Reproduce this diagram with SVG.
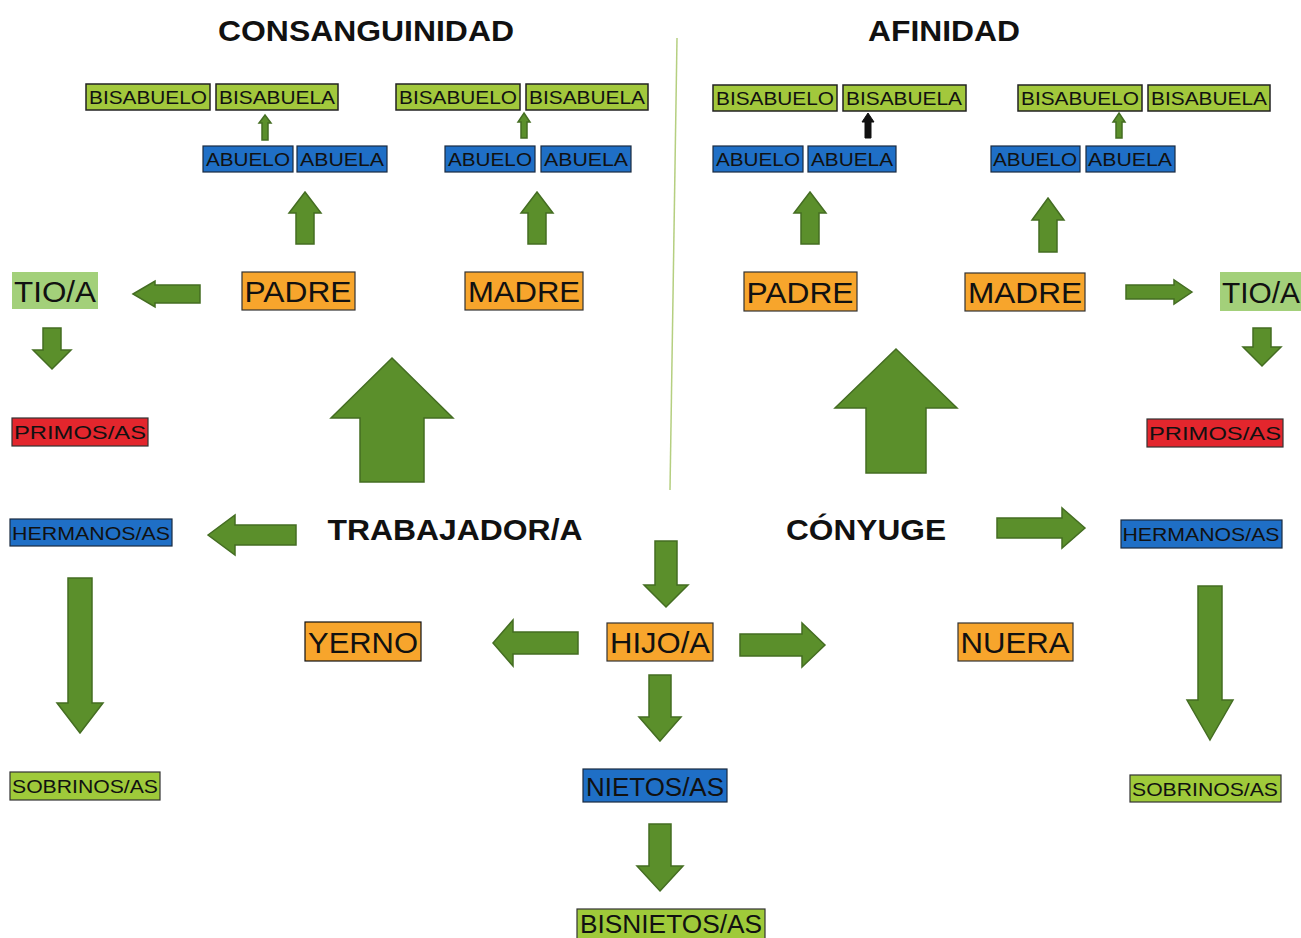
<svg xmlns="http://www.w3.org/2000/svg" width="1301" height="938" viewBox="0 0 1301 938">
<style>
text{font-family:"Liberation Sans",Arial,sans-serif;fill:#111}
.title{font-weight:bold;font-size:30px}
.g1{fill:#a2c83c;stroke:#222;stroke-width:1.5}
.g2{fill:#a3d07a}
.g3{fill:#9fca3a;stroke:#333;stroke-width:1.2}
.bl{fill:#1f6fc6;stroke:#1a2a40;stroke-width:1.2}
.or{fill:#f7a52c;stroke:#333;stroke-width:1.2}
.rd{fill:#e3262d;stroke:#333;stroke-width:1.2}
.s{font-size:19px}
.m{font-size:30px}
.arr{fill:#5b8f2b;stroke:#446d22;stroke-width:1.5;stroke-linejoin:miter}
.arrk{fill:#111;stroke:#111;stroke-width:1}
</style>
<line x1="677" y1="38" x2="670" y2="490" stroke="#b5cf80" stroke-width="1.5"/>
<text class="title" x="366" y="41" text-anchor="middle" textLength="296" lengthAdjust="spacingAndGlyphs">CONSANGUINIDAD</text>
<text class="title" x="944" y="41" text-anchor="middle" textLength="152" lengthAdjust="spacingAndGlyphs">AFINIDAD</text>

<g id="connectors">
<polygon class="arr" points="265,115 271,123 268,123 268,140 262,140 262,123 259,123"/>
<polygon class="arr" points="524,113 530,122 527,122 527,138 521,138 521,122 518,122"/>
<polygon class="arrk" points="868,113 874,122 871,122 871,138 865,138 865,122 862,122"/>
<polygon class="arr" points="1119,113 1125,122 1122,122 1122,138 1116,138 1116,122 1113,122"/>
<polygon class="arr" points="305,192 321,213 314,213 314,244 296,244 296,213 289,213"/>
<polygon class="arr" points="537,192 553,213 546,213 546,244 528,244 528,213 521,213"/>
<polygon class="arr" points="810,192 826,213 819,213 819,244 801,244 801,213 794,213"/>
<polygon class="arr" points="1048,198 1064,220 1057,220 1057,252 1039,252 1039,220 1032,220"/>
<polygon class="arr" points="392,358 453,418 424,418 424,482 360,482 360,418 331,418"/>
<polygon class="arr" points="896,349 957,408 926,408 926,473 866,473 866,408 835,408"/>
<polygon class="arr" points="52,369 71,350 61,350 61,328 43,328 43,350 33,350"/>
<polygon class="arr" points="1262,366 1281,347 1271,347 1271,328 1253,328 1253,347 1243,347"/>
<polygon class="arr" points="80,733 103,703 92,703 92,578 68,578 68,703 57,703"/>
<polygon class="arr" points="1210,740 1233,700 1222,700 1222,586 1198,586 1198,700 1187,700"/>
<polygon class="arr" points="666,607 688,585 677,585 677,541 655,541 655,585 644,585"/>
<polygon class="arr" points="660,741 681,717 671,717 671,675 649,675 649,717 639,717"/>
<polygon class="arr" points="660,891 683,866 671,866 671,824 649,824 649,866 637,866"/>
<polygon class="arr" points="133,294 155,281 155,285 200,285 200,303 155,303 155,307"/>
<polygon class="arr" points="208,535 235,515 235,525 296,525 296,545 235,545 235,555"/>
<polygon class="arr" points="493,643 513,620 513,632 578,632 578,654 513,654 513,666"/>
<polygon class="arr" points="825,645 802,623 802,634 740,634 740,656 802,656 802,667"/>
<polygon class="arr" points="1085,528 1062,508 1062,518 997,518 997,538 1062,538 1062,548"/>
<polygon class="arr" points="1192,292 1174,280 1174,285 1126,285 1126,299 1174,299 1174,304"/>
</g>

<g id="bisabuelo1"><rect class="g1" x="86" y="84" width="124" height="26"/><text class="s" x="148" y="104" text-anchor="middle" textLength="118" lengthAdjust="spacingAndGlyphs">BISABUELO</text></g>
<g id="bisabuela1"><rect class="g1" x="216" y="84" width="122" height="26"/><text class="s" x="277" y="104" text-anchor="middle" textLength="116" lengthAdjust="spacingAndGlyphs">BISABUELA</text></g>
<g id="bisabuelo2"><rect class="g1" x="396" y="84" width="124" height="26"/><text class="s" x="458" y="104" text-anchor="middle" textLength="118" lengthAdjust="spacingAndGlyphs">BISABUELO</text></g>
<g id="bisabuela2"><rect class="g1" x="526" y="84" width="122" height="26"/><text class="s" x="587" y="104" text-anchor="middle" textLength="116" lengthAdjust="spacingAndGlyphs">BISABUELA</text></g>
<g id="bisabuelo3"><rect class="g1" x="713" y="85" width="124" height="26"/><text class="s" x="775" y="105" text-anchor="middle" textLength="118" lengthAdjust="spacingAndGlyphs">BISABUELO</text></g>
<g id="bisabuela3"><rect class="g1" x="843" y="85" width="123" height="26"/><text class="s" x="904" y="105" text-anchor="middle" textLength="116" lengthAdjust="spacingAndGlyphs">BISABUELA</text></g>
<g id="bisabuelo4"><rect class="g1" x="1018" y="85" width="124" height="26"/><text class="s" x="1080" y="105" text-anchor="middle" textLength="118" lengthAdjust="spacingAndGlyphs">BISABUELO</text></g>
<g id="bisabuela4"><rect class="g1" x="1148" y="85" width="122" height="26"/><text class="s" x="1209" y="105" text-anchor="middle" textLength="116" lengthAdjust="spacingAndGlyphs">BISABUELA</text></g>

<g id="abuelo1"><rect class="bl" x="203" y="146" width="90" height="26"/><text class="s" x="248" y="166" text-anchor="middle" textLength="84" lengthAdjust="spacingAndGlyphs">ABUELO</text></g>
<g id="abuela1"><rect class="bl" x="297" y="146" width="90" height="26"/><text class="s" x="342" y="166" text-anchor="middle" textLength="84" lengthAdjust="spacingAndGlyphs">ABUELA</text></g>
<g id="abuelo2"><rect class="bl" x="445" y="146" width="90" height="26"/><text class="s" x="490" y="166" text-anchor="middle" textLength="84" lengthAdjust="spacingAndGlyphs">ABUELO</text></g>
<g id="abuela2"><rect class="bl" x="541" y="146" width="90" height="26"/><text class="s" x="586" y="166" text-anchor="middle" textLength="84" lengthAdjust="spacingAndGlyphs">ABUELA</text></g>
<g id="abuelo3"><rect class="bl" x="713" y="146" width="90" height="26"/><text class="s" x="758" y="166" text-anchor="middle" textLength="84" lengthAdjust="spacingAndGlyphs">ABUELO</text></g>
<g id="abuela3"><rect class="bl" x="808" y="146" width="88" height="26"/><text class="s" x="852" y="166" text-anchor="middle" textLength="82" lengthAdjust="spacingAndGlyphs">ABUELA</text></g>
<g id="abuelo4"><rect class="bl" x="991" y="146" width="89" height="26"/><text class="s" x="1035" y="166" text-anchor="middle" textLength="84" lengthAdjust="spacingAndGlyphs">ABUELO</text></g>
<g id="abuela4"><rect class="bl" x="1086" y="146" width="89" height="26"/><text class="s" x="1130" y="166" text-anchor="middle" textLength="84" lengthAdjust="spacingAndGlyphs">ABUELA</text></g>

<g id="padre1"><rect class="or" x="242" y="272" width="113" height="38"/><text class="m" x="298" y="302" text-anchor="middle" textLength="107" lengthAdjust="spacingAndGlyphs">PADRE</text></g>
<g id="madre1"><rect class="or" x="465" y="272" width="118" height="38"/><text class="m" x="524" y="302" text-anchor="middle" textLength="112" lengthAdjust="spacingAndGlyphs">MADRE</text></g>
<g id="padre2"><rect class="or" x="744" y="272" width="113" height="39"/><text class="m" x="800" y="303" text-anchor="middle" textLength="107" lengthAdjust="spacingAndGlyphs">PADRE</text></g>
<g id="madre2"><rect class="or" x="965" y="273" width="120" height="38"/><text class="m" x="1025" y="303" text-anchor="middle" textLength="114" lengthAdjust="spacingAndGlyphs">MADRE</text></g>

<g id="tio1"><rect class="g2" x="12" y="272" width="86" height="37"/><text class="m" x="55" y="302" text-anchor="middle" textLength="82" lengthAdjust="spacingAndGlyphs">TIO/A</text></g>
<g id="tio2"><rect class="g2" x="1220" y="272" width="81" height="39"/><text class="m" x="1222" y="303" textLength="78" lengthAdjust="spacingAndGlyphs">TIO/A</text></g>

<g id="primos1"><rect class="rd" x="12" y="418" width="136" height="28"/><text class="s" x="80" y="439" text-anchor="middle" textLength="132" lengthAdjust="spacingAndGlyphs">PRIMOS/AS</text></g>
<g id="primos2"><rect class="rd" x="1147" y="419" width="136" height="28"/><text class="s" x="1215" y="440" text-anchor="middle" textLength="132" lengthAdjust="spacingAndGlyphs">PRIMOS/AS</text></g>

<g id="trabajador"><text class="title" x="455" y="540" text-anchor="middle" textLength="255" lengthAdjust="spacingAndGlyphs">TRABAJADOR/A</text></g>
<g id="conyuge"><text class="title" x="866" y="540" text-anchor="middle" textLength="160" lengthAdjust="spacingAndGlyphs">CÓNYUGE</text></g>

<g id="hermanos1"><rect class="bl" x="10" y="519" width="162" height="27"/><text class="s" x="91" y="540" text-anchor="middle" textLength="158" lengthAdjust="spacingAndGlyphs">HERMANOS/AS</text></g>
<g id="hermanos2"><rect class="bl" x="1121" y="520" width="161" height="28"/><text class="s" x="1201" y="541" text-anchor="middle" textLength="157" lengthAdjust="spacingAndGlyphs">HERMANOS/AS</text></g>

<g id="sobrinos1"><rect class="g3" x="10" y="772" width="150" height="28"/><text class="s" x="85" y="793" text-anchor="middle" textLength="146" lengthAdjust="spacingAndGlyphs">SOBRINOS/AS</text></g>
<g id="sobrinos2"><rect class="g3" x="1130" y="775" width="151" height="27"/><text class="s" x="1205" y="796" text-anchor="middle" textLength="146" lengthAdjust="spacingAndGlyphs">SOBRINOS/AS</text></g>

<g id="yerno"><rect class="or" x="305" y="622" width="116" height="39" style="stroke:#111"/><text class="m" x="363" y="653" text-anchor="middle" textLength="110" lengthAdjust="spacingAndGlyphs">YERNO</text></g>
<g id="hijo"><rect class="or" x="607" y="623" width="106" height="38"/><text class="m" x="660" y="653" text-anchor="middle" textLength="100" lengthAdjust="spacingAndGlyphs">HIJO/A</text></g>
<g id="nuera"><rect class="or" x="958" y="623" width="115" height="38"/><text class="m" x="1015" y="653" text-anchor="middle" textLength="109" lengthAdjust="spacingAndGlyphs">NUERA</text></g>

<g id="nietos"><rect class="bl" x="583" y="769" width="144" height="33"/><text class="m" x="655" y="796" text-anchor="middle" style="font-size:26px" textLength="138" lengthAdjust="spacingAndGlyphs">NIETOS/AS</text></g>
<g id="bisnietos"><rect class="g3" x="577" y="909" width="188" height="34"/><text class="m" x="671" y="933" text-anchor="middle" style="font-size:25px" textLength="182" lengthAdjust="spacingAndGlyphs">BISNIETOS/AS</text></g>
</svg>
